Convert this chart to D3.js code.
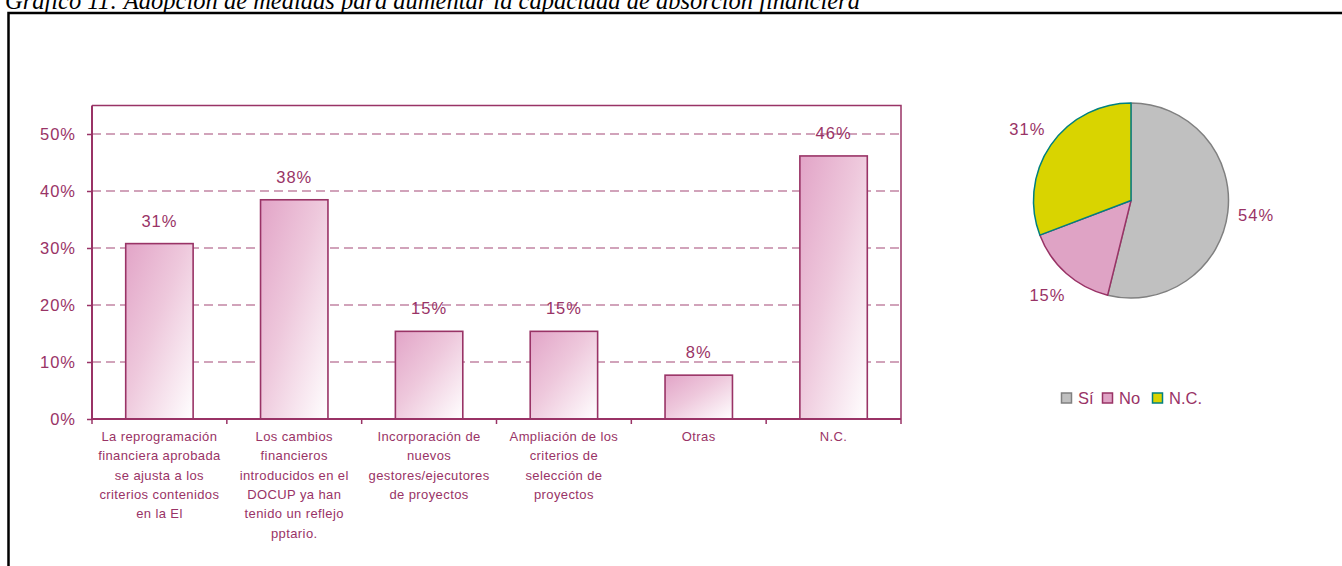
<!DOCTYPE html>
<html>
<head>
<meta charset="utf-8">
<script src="https://cdn.jsdelivr.net/npm/d3@7"></script>
<style>
  body { margin: 0; background: #fff; }
  svg { display: block; }
</style>
</head>
<body>
<div id="graph-container"></div>
<script>
const width = 1342, height = 566;

// bar chart data (% of 13 answers)
const categories = [
  ["La reprogramación", "financiera aprobada", "se ajusta a los", "criterios contenidos", "en la El"],
  ["Los cambios", "financieros", "introducidos en el", "DOCUP ya han", "tenido un reflejo", "pptario."],
  ["Incorporación de", "nuevos", "gestores/ejecutores", "de proyectos"],
  ["Ampliación de los", "criterios de", "selección de", "proyectos"],
  ["Otras"],
  ["N.C."]
];
const barValues = [30.77, 38.46, 15.38, 15.38, 7.69, 46.15];
const yTicks = [0, 10, 20, 30, 40, 50];

// pie data
const pieLabels = ["Sí", "No", "N.C."];
const pieValues = [53.85, 15.38, 30.77];
const pieFill = ["#c0c0c0", "#dfa3c5", "#d9d400"];
const pieStroke = ["#808080", "#993366", "#008080"];

const plum = "#993366";
const sans = "'Liberation Sans', Arial, sans-serif";

const svg = d3.select("#graph-container").append("svg")
  .attr("width", width)
  .attr("height", height);

// title (cut at the top, as in the original page)
svg.append("text")
  .attr("x", 5)
  .attr("y", 9)
  .attr("font-family", "'Liberation Serif', 'Times New Roman', serif")
  .attr("font-style", "italic")
  .attr("font-size", 24.5)
  .attr("fill", "#000")
  .text("Gráfico 11: Adopción de medidas para aumentar la capacidad de absorción financiera");

// outer frame
svg.append("rect")
  .attr("x", 8.5).attr("y", 13)
  .attr("width", 1400).attr("height", 600)
  .attr("fill", "none")
  .attr("stroke", "#000")
  .attr("stroke-width", 2.5);

// gradient for bars
const defs = svg.append("defs");
const grad = defs.append("linearGradient")
  .attr("id", "barGrad")
  .attr("x1", 0).attr("y1", 0).attr("x2", 1).attr("y2", 1);
grad.append("stop").attr("offset", 0).attr("stop-color", "#e2a4c7");
grad.append("stop").attr("offset", 0.45).attr("stop-color", "#eec8dc");
grad.append("stop").attr("offset", 1).attr("stop-color", "#ffffff");

// ---- bar chart ----
const plotLeft = 92, plotRight = 901, plotTop = 105.5, plotBottom = 419;

const x = d3.scaleBand()
  .domain(d3.range(categories.length))
  .range([plotLeft, plotRight])
  .paddingInner(0.5)
  .paddingOuter(0.25);

const y = d3.scaleLinear()
  .domain([0, 55])
  .range([plotBottom, plotTop]);

const g = svg.append("g");

// dashed gridlines
g.selectAll("line.grid")
  .data(yTicks.filter(d => d > 0))
  .join("line")
  .attr("class", "grid")
  .attr("x1", plotLeft).attr("x2", plotRight)
  .attr("y1", d => y(d)).attr("y2", d => y(d))
  .attr("stroke", plum)
  .attr("stroke-opacity", 0.9)
  .attr("stroke-width", 1.2)
  .attr("stroke-dasharray", "9,5");

// plot frame top / right
g.append("path")
  .attr("d", `M${plotLeft},${plotTop}H${plotRight}V${plotBottom}`)
  .attr("fill", "none")
  .attr("stroke", plum)
  .attr("stroke-width", 1.5);

// bars
g.selectAll("rect.bar")
  .data(barValues)
  .join("rect")
  .attr("class", "bar")
  .attr("x", (d, i) => x(i))
  .attr("y", d => y(d))
  .attr("width", x.bandwidth())
  .attr("height", d => y(0) - y(d))
  .attr("fill", "url(#barGrad)")
  .attr("stroke", plum)
  .attr("stroke-width", 1.6);

// value labels
g.selectAll("text.val")
  .data(barValues)
  .join("text")
  .attr("class", "val")
  .attr("x", (d, i) => x(i) + x.bandwidth() / 2)
  .attr("y", d => y(d) - 17)
  .attr("text-anchor", "middle")
  .attr("font-family", sans)
  .attr("font-size", 16.5)
  .attr("letter-spacing", 1)
  .attr("fill", plum)
  .text(d => Math.round(d) + "%");

// y axis
const gy = g.append("g")
  .attr("transform", `translate(${plotLeft},0)`)
  .call(d3.axisLeft(y).tickValues(yTicks).tickFormat(d => d + "%").tickSize(5).tickPadding(11).tickSizeOuter(0));
gy.select(".domain").attr("stroke", plum).attr("stroke-width", 2).attr("d", `M0,${plotBottom}V${plotTop}`);
gy.selectAll(".tick line").attr("stroke", plum).attr("stroke-width", 1.5);
gy.selectAll(".tick text")
  .attr("font-family", sans)
  .attr("font-size", 16.5)
  .attr("letter-spacing", 1)
  .attr("fill", plum);

// x axis line and ticks at band boundaries
g.append("line")
  .attr("x1", plotLeft).attr("x2", plotRight)
  .attr("y1", plotBottom).attr("y2", plotBottom)
  .attr("stroke", plum).attr("stroke-width", 2);

g.selectAll("line.xtick")
  .data(d3.range(categories.length + 1))
  .join("line")
  .attr("class", "xtick")
  .attr("x1", i => plotLeft + i * x.step()).attr("x2", i => plotLeft + i * x.step())
  .attr("y1", plotBottom).attr("y2", plotBottom + 5)
  .attr("stroke", plum).attr("stroke-width", 1.5);

// category labels
const xl = g.selectAll("text.cat")
  .data(categories)
  .join("text")
  .attr("class", "cat")
  .attr("text-anchor", "middle")
  .attr("font-family", sans)
  .attr("font-size", 13)
  .attr("letter-spacing", 0.4)
  .attr("fill", plum);
xl.selectAll("tspan")
  .data((d, i) => d.map(t => ({ t, i })))
  .join("tspan")
  .attr("x", d => x(d.i) + x.bandwidth() / 2)
  .attr("y", (d, j) => 441 + j * 19.3)
  .text(d => d.t);

// ---- pie chart ----
const cx = 1131, cy = 200.5, r = 97.5;
const pie = d3.pie().sort(null).value(d => d)(pieValues);
const arc = d3.arc().innerRadius(0).outerRadius(r);
const labelArc = d3.arc().innerRadius(126).outerRadius(126);

const gp = svg.append("g").attr("transform", `translate(${cx},${cy})`);

gp.selectAll("path")
  .data(pie)
  .join("path")
  .attr("d", arc)
  .attr("fill", (d, i) => pieFill[i])
  .attr("stroke", (d, i) => pieStroke[i])
  .attr("stroke-width", 1.5)
  .attr("stroke-linejoin", "round");

gp.selectAll("text")
  .data(pie)
  .join("text")
  .attr("transform", d => `translate(${labelArc.centroid(d)})`)
  .attr("text-anchor", "middle")
  .attr("dy", "0.35em")
  .attr("font-family", sans)
  .attr("font-size", 16.5)
  .attr("letter-spacing", 1)
  .attr("fill", plum)
  .text(d => Math.round(d.data) + "%");

// legend
const legendX = [1061, 1102, 1152];
const gl = svg.append("g").attr("transform", "translate(0,398)");
const item = gl.selectAll("g")
  .data(pieLabels)
  .join("g")
  .attr("transform", (d, i) => `translate(${legendX[i]},0)`);
item.append("rect")
  .attr("x", 0.5).attr("y", -5)
  .attr("width", 10).attr("height", 10)
  .attr("fill", (d, i) => pieFill[i])
  .attr("stroke", (d, i) => pieStroke[i])
  .attr("stroke-width", 1.5);
item.append("text")
  .attr("x", 17)
  .attr("y", 0)
  .attr("dy", "0.35em")
  .attr("font-family", sans)
  .attr("font-size", 16.5)
  .attr("fill", plum)
  .text(d => d);
</script>
</body>
</html>
